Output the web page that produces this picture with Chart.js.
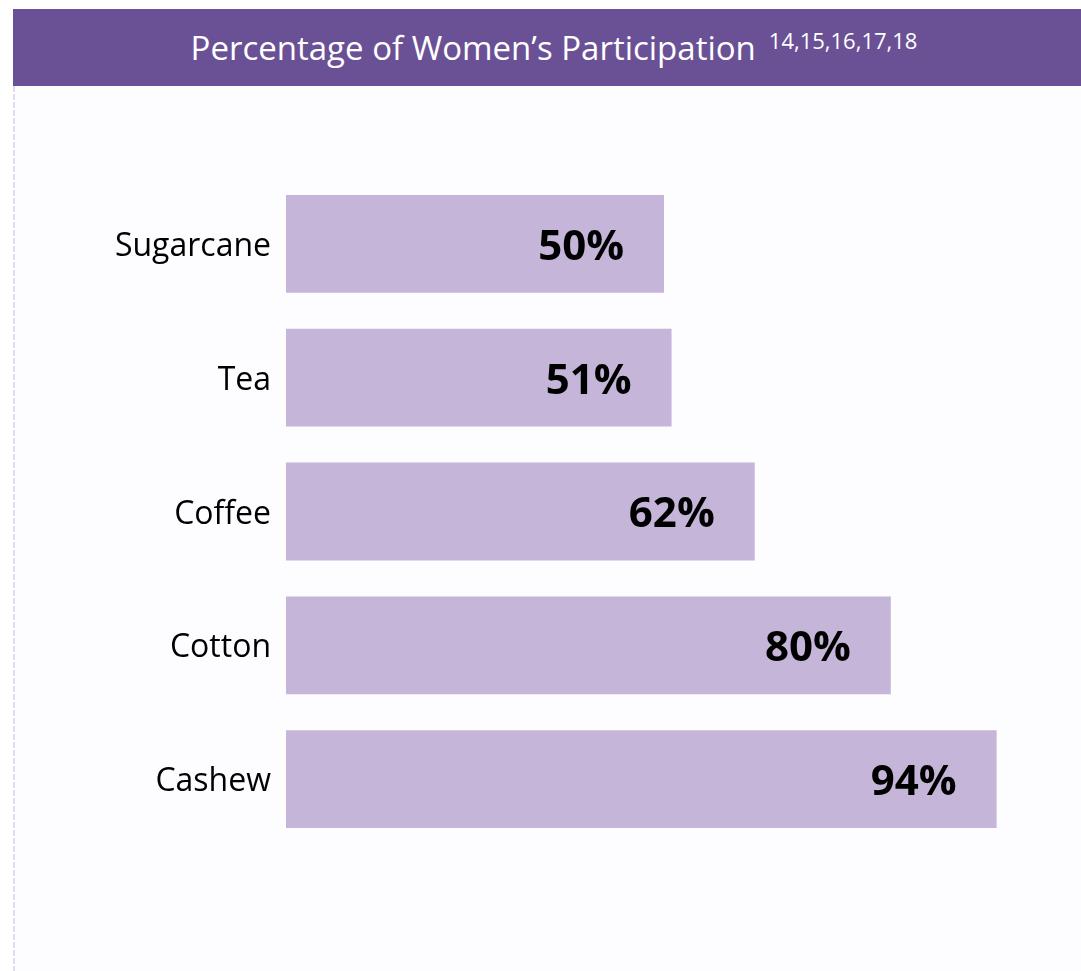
<!DOCTYPE html>
<html>
<head>
<meta charset="utf-8">
<script src="https://cdn.jsdelivr.net/npm/chart.js@4"></script>
<style>
  body { margin: 0; background: #ffffff; }
  #wrap { position: relative; width: 1081px; height: 971px; overflow: hidden; }
  #chart { position: absolute; left: 0; top: 0; }
  #header {
    position: absolute; left: 13px; top: 9px; width: 1068px; height: 77px;
    background: #6a5196; color: #ffffff;
    font-family: "Open Sans", sans-serif; font-size: 33px; line-height: 77px;
    text-align: center; white-space: nowrap;
    padding-left: 14px; box-sizing: border-box;
  }
  #header sup { font-size: 22px; margin-left: 13px; vertical-align: 11px; line-height: 0; }
</style>
</head>
<body>
<div id="wrap">
  <canvas id="chart" width="1081" height="971"></canvas>
  <div id="header">Percentage of Women’s Participation<sup>14,15,16,17,18</sup></div>
</div>
<script>
const crops = ['Sugarcane', 'Tea', 'Coffee', 'Cotton', 'Cashew'];
const participation = [50, 51, 62, 80, 94];

// page panel + dashed left rule
const panelBackground = {
  id: 'panelBackground',
  beforeDraw(chart) {
    const ctx = chart.ctx;
    ctx.save();
    ctx.fillStyle = '#fdfcfe';
    ctx.fillRect(13, 86, chart.width - 13, chart.height - 86);
    ctx.strokeStyle = '#e2dcef';
    ctx.lineWidth = 2;
    ctx.setLineDash([6, 2]);
    ctx.beginPath();
    ctx.moveTo(14, 86);
    ctx.lineTo(14, chart.height);
    ctx.stroke();
    ctx.restore();
  }
};

// bold percentage inside the end of each bar
const valueLabels = {
  id: 'valueLabels',
  afterDatasetsDraw(chart) {
    const ctx = chart.ctx;
    const meta = chart.getDatasetMeta(0);
    ctx.save();
    ctx.font = 'bold 42px "Open Sans", sans-serif';
    ctx.fillStyle = '#000000';
    ctx.textAlign = 'right';
    ctx.textBaseline = 'middle';
    meta.data.forEach(function(bar, i) {
      ctx.fillText(participation[i] + '%', bar.x - 40, bar.y + 4);
    });
    ctx.restore();
  }
};

const ctx = document.getElementById('chart').getContext('2d');
new Chart(ctx, {
  type: 'bar',
  data: {
    labels: crops,
    datasets: [{
      data: participation,
      backgroundColor: '#c5b5d8',
      borderWidth: 0,
      categoryPercentage: 1,
      barPercentage: 0.731
    }]
  },
  options: {
    indexAxis: 'y',
    responsive: false,
    animation: false,
    layout: { padding: { left: 0, top: 177, right: 39, bottom: 125 } },
    plugins: {
      legend: { display: false },
      tooltip: { enabled: false }
    },
    scales: {
      x: { display: false, min: 0, max: 100 },
      y: {
        afterFit(scale) { scale.width = 286; },
        grid: { display: false, drawTicks: false },
        border: { display: false },
        ticks: {
          padding: 15,
          labelOffset: 3,
          color: '#000000',
          font: { family: '"Open Sans", sans-serif', size: 32 }
        }
      }
    }
  },
  plugins: [panelBackground, valueLabels]
});
</script>
</body>
</html>
